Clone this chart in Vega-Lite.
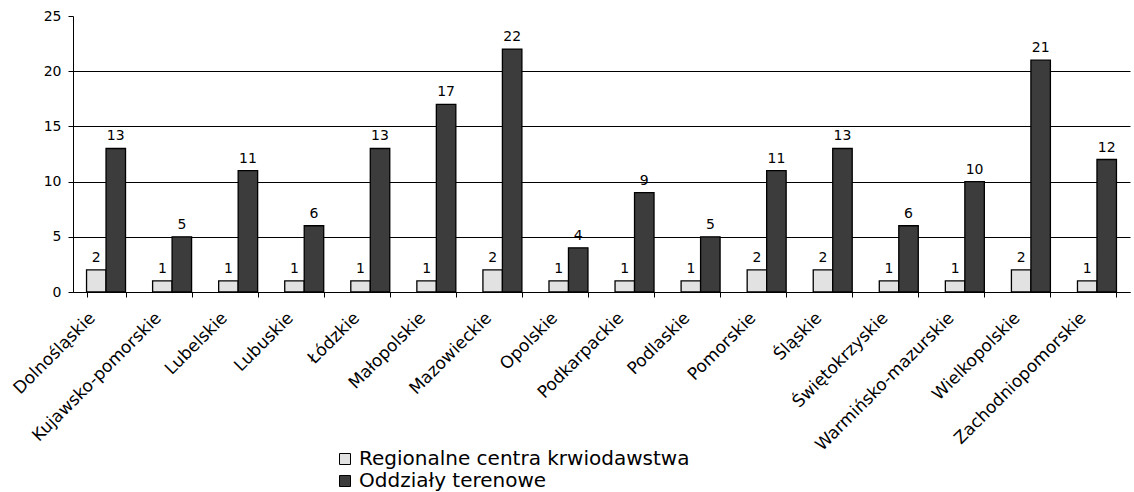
{
  "$schema": "https://vega.github.io/schema/vega-lite/v6.json",
  "autosize": {"type": "none"},
  "width": 1057,
  "height": 276,
  "padding": {"left": 73, "top": 16, "right": 4, "bottom": 200},
  "background": "white",
  "config": {
    "view": {"stroke": null},
    "font": "DejaVu Sans"
  },
  "data": {
    "values": [
      {"region": "Dolnośląskie", "series": "Regionalne centra krwiodawstwa", "value": 2},
      {"region": "Dolnośląskie", "series": "Oddziały terenowe", "value": 13},
      {"region": "Kujawsko-pomorskie", "series": "Regionalne centra krwiodawstwa", "value": 1},
      {"region": "Kujawsko-pomorskie", "series": "Oddziały terenowe", "value": 5},
      {"region": "Lubelskie", "series": "Regionalne centra krwiodawstwa", "value": 1},
      {"region": "Lubelskie", "series": "Oddziały terenowe", "value": 11},
      {"region": "Lubuskie", "series": "Regionalne centra krwiodawstwa", "value": 1},
      {"region": "Lubuskie", "series": "Oddziały terenowe", "value": 6},
      {"region": "Łódzkie", "series": "Regionalne centra krwiodawstwa", "value": 1},
      {"region": "Łódzkie", "series": "Oddziały terenowe", "value": 13},
      {"region": "Małopolskie", "series": "Regionalne centra krwiodawstwa", "value": 1},
      {"region": "Małopolskie", "series": "Oddziały terenowe", "value": 17},
      {"region": "Mazowieckie", "series": "Regionalne centra krwiodawstwa", "value": 2},
      {"region": "Mazowieckie", "series": "Oddziały terenowe", "value": 22},
      {"region": "Opolskie", "series": "Regionalne centra krwiodawstwa", "value": 1},
      {"region": "Opolskie", "series": "Oddziały terenowe", "value": 4},
      {"region": "Podkarpackie", "series": "Regionalne centra krwiodawstwa", "value": 1},
      {"region": "Podkarpackie", "series": "Oddziały terenowe", "value": 9},
      {"region": "Podlaskie", "series": "Regionalne centra krwiodawstwa", "value": 1},
      {"region": "Podlaskie", "series": "Oddziały terenowe", "value": 5},
      {"region": "Pomorskie", "series": "Regionalne centra krwiodawstwa", "value": 2},
      {"region": "Pomorskie", "series": "Oddziały terenowe", "value": 11},
      {"region": "Śląskie", "series": "Regionalne centra krwiodawstwa", "value": 2},
      {"region": "Śląskie", "series": "Oddziały terenowe", "value": 13},
      {"region": "Świętokrzyskie", "series": "Regionalne centra krwiodawstwa", "value": 1},
      {"region": "Świętokrzyskie", "series": "Oddziały terenowe", "value": 6},
      {"region": "Warmińsko-mazurskie", "series": "Regionalne centra krwiodawstwa", "value": 1},
      {"region": "Warmińsko-mazurskie", "series": "Oddziały terenowe", "value": 10},
      {"region": "Wielkopolskie", "series": "Regionalne centra krwiodawstwa", "value": 2},
      {"region": "Wielkopolskie", "series": "Oddziały terenowe", "value": 21},
      {"region": "Zachodniopomorskie", "series": "Regionalne centra krwiodawstwa", "value": 1},
      {"region": "Zachodniopomorskie", "series": "Oddziały terenowe", "value": 12}
    ]
  },
  "encoding": {
    "x": {
      "field": "region",
      "type": "nominal",
      "sort": null,
      "scale": {"paddingInner": 0.41, "paddingOuter": 0.205},
      "axis": {
        "title": null,
        "labelAngle": -45,
        "labelAlign": "right",
        "labelBaseline": "middle",
        "labelFont": "DejaVu Sans",
        "labelFontSize": 17,
        "labelColor": "black",
        "labelOffset": -14,
        "labelPadding": 18,
        "labelLimit": 400,
        "tickBand": "extent",
        "tickSize": 5,
        "tickColor": "black",
        "domainColor": "black",
        "grid": false
      }
    },
    "xOffset": {
      "field": "series",
      "type": "nominal",
      "sort": ["Regionalne centra krwiodawstwa", "Oddziały terenowe"]
    },
    "y": {
      "field": "value",
      "type": "quantitative",
      "scale": {"domain": [0, 25], "nice": false},
      "axis": {
        "title": null,
        "values": [0, 5, 10, 15, 20, 25],
        "labelFont": "DejaVu Sans",
        "labelFontSize": 14,
        "labelColor": "black",
        "labelPadding": 7,
        "tickSize": 5,
        "tickColor": "black",
        "domainColor": "black",
        "grid": true,
        "gridColor": {"condition": {"test": "datum.value === 25", "value": "transparent"}, "value": "black"},
        "gridWidth": 1
      }
    }
  },
  "layer": [
    {
      "mark": {"type": "bar", "stroke": "black", "strokeWidth": 1.3},
      "encoding": {
        "color": {
          "field": "series",
          "type": "nominal",
          "scale": {
            "domain": ["Regionalne centra krwiodawstwa", "Oddziały terenowe"],
            "range": ["#e2e2e2", "#3c3c3c"]
          },
          "legend": {
            "title": null,
            "orient": "none",
            "legendX": 262,
            "legendY": 433,
            "direction": "vertical",
            "symbolType": "square",
            "symbolSize": 121,
            "symbolStrokeColor": "black",
            "symbolStrokeWidth": 1,
            "labelFont": "DejaVu Sans",
            "labelFontSize": 20,
            "labelColor": "black",
            "labelOffset": 4,
            "labelLimit": 500,
            "rowPadding": 2
          }
        }
      }
    },
    {
      "mark": {"type": "text", "dy": -8, "baseline": "alphabetic", "font": "DejaVu Sans", "fontSize": 14, "color": "black"},
      "encoding": {
        "text": {"field": "value", "type": "quantitative"}
      }
    }
  ]
}
